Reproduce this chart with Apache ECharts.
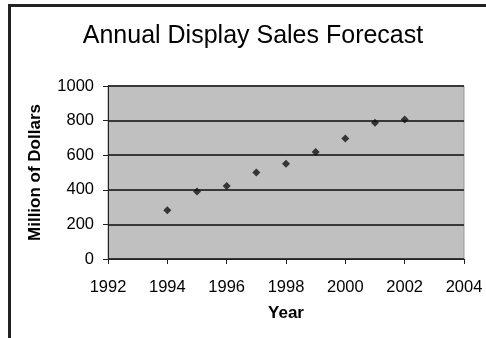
<!DOCTYPE html>
<html>
<head>
<meta charset="utf-8">
<script src="https://cdn.jsdelivr.net/npm/echarts@6/dist/echarts.min.js"></script>
<style>
html,body{margin:0;padding:0;background:#fff;}
#c{width:486px;height:338px;}
</style>
</head>
<body>
<div id="c"></div>
<script>
const years = [1994, 1995, 1996, 1997, 1998, 1999, 2000, 2001, 2002];
const sales = [282, 390, 422, 500, 550, 619, 697, 788, 807];
const xTicks = [1992, 1994, 1996, 1998, 2000, 2002, 2004];
const yTicks = [0, 200, 400, 600, 800, 1000];

const chart = echarts.init(document.getElementById('c'), null, {renderer: 'canvas'});
const font = '"Liberation Sans", Arial, sans-serif';
chart.setOption({
  animation: false,
  backgroundColor: '#ffffff',
  title: {
    text: 'Annual Display Sales Forecast',
    left: 248, top: 19, textAlign: 'center',
    textStyle: {fontFamily: font, fontSize: 25, fontWeight: 'normal', color: '#000'}
  },
  graphic: [{
    type: 'rect', silent: true, z: 100,
    shape: {x: 9.5, y: 5.5, width: 700, height: 700},
    style: {fill: 'none', stroke: '#222', lineWidth: 3}
  }],
  grid: {left: 108, right: 22, top: 86, bottom: 79, show: true, backgroundColor: '#c0c0c0', borderColor: '#999', borderWidth: 1},
  xAxis: {
    type: 'value', min: xTicks[0], max: xTicks[xTicks.length - 1], interval: 2,
    name: 'Year', nameLocation: 'middle', nameGap: 46,
    nameTextStyle: {fontFamily: font, fontSize: 17, fontWeight: 'bold', color: '#000'},
    axisLine: {show: true, onZero: false, lineStyle: {color: '#222', width: 1}},
    axisTick: {show: true, length: 5, lineStyle: {color: '#222'}},
    axisLabel: {fontFamily: font, fontSize: 16.5, color: '#000', margin: 20, formatter: v => String(v)},
    splitLine: {show: false}
  },
  yAxis: {
    type: 'value', min: yTicks[0], max: yTicks[yTicks.length - 1], interval: 200,
    name: 'Million of Dollars', nameLocation: 'middle', nameGap: 64,
    nameTextStyle: {fontFamily: font, fontSize: 17, fontWeight: 'bold', color: '#000'},
    axisLine: {show: true, lineStyle: {color: '#222', width: 1}},
    axisTick: {show: true, length: 5, lineStyle: {color: '#222'}},
    axisLabel: {fontFamily: font, fontSize: 16.5, color: '#000', margin: 14, formatter: v => String(v)},
    splitLine: {show: true, lineStyle: {color: '#383838', width: 2}}
  },
  series: [{
    type: 'scatter',
    data: years.map((y, i) => [y, sales[i]]),
    symbol: 'diamond', symbolSize: 8,
    itemStyle: {color: '#111'}
  }]
});
</script>
</body>
</html>
